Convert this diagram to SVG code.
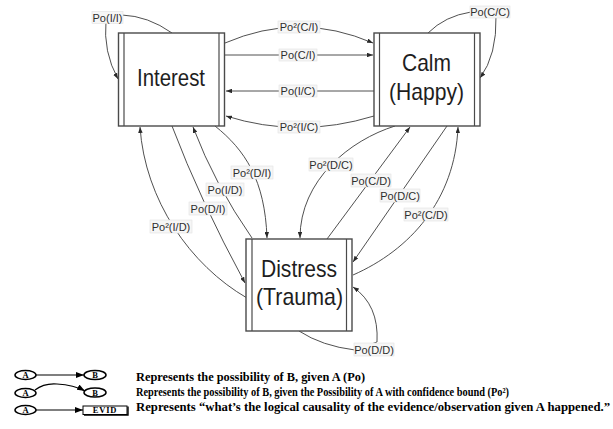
<svg xmlns="http://www.w3.org/2000/svg" width="613" height="429" viewBox="0 0 613 429">
  <style>
    .box { fill: #fff; stroke: #4a4a4a; stroke-width: 1.4; }
    .bar { stroke: #4a4a4a; stroke-width: 1.2; }
    .state { font-family: "Liberation Sans", Arial, sans-serif; font-size: 24px; fill: #1e1e1e; text-anchor: middle; }
    .edge { fill: none; stroke: #3c3c3c; stroke-width: 0.9; marker-end: url(#arr); }
    .lblbg { fill: #f6f6f6; stroke: #e2e2e2; stroke-width: 0.6; }
    .lbl { font-family: "Liberation Sans", Arial, sans-serif; font-size: 11px; fill: #2e2e2e; text-anchor: middle; }
    .leg { font-family: "Liberation Serif", "Times New Roman", serif; font-size: 12px; font-weight: bold; fill: #000; }
    .oval { fill: #fff; stroke: #000; stroke-width: 1.5; }
    .ovl { font-family: "Liberation Serif", serif; font-size: 8.5px; font-weight: bold; fill: #000; text-anchor: middle; }
    .legline { fill: none; stroke: #000; stroke-width: 1.2; }
  </style>
  <defs>
    <marker id="arr" viewBox="0 0 8 6" refX="8" refY="3" markerWidth="6" markerHeight="4.5" orient="auto" markerUnits="userSpaceOnUse">
      <path d="M0,0 L8,3 L0,6 z" fill="#2a2a2a"/>
    </marker>
    <marker id="bold" viewBox="0 0 8 6" refX="8" refY="3" markerWidth="8" markerHeight="6" orient="auto" markerUnits="userSpaceOnUse">
      <path d="M0,0 L8,3 L0,6 z" fill="#000"/>
    </marker>
  </defs>

  <!-- connectors -->
  <g id="connectors">
    <!-- Interest <-> Calm -->
    <path class="edge" d="M225,43 Q299,11 373,43"/>
    <path class="edge" d="M225,55 L373,55"/>
    <path class="edge" d="M374,91 L226,91"/>
    <path class="edge" d="M374,116 Q299,139 226,116"/>
    <!-- self loops -->
    <path class="edge" d="M172,33 Q148,16 122,15 L106,20 Q103,52 118,79"/>
    <path class="edge" d="M428,33 Q445,16 471,12 L496,16 Q497,55 480,78"/>
    <path class="edge" d="M299,331 Q322,346 355,350 L377,342 Q379,305 353,287"/>
    <!-- Interest <-> Distress -->
    <path class="edge" d="M247,298 C190,265 145,200 140,127"/>
    <path class="edge" d="M172,126 Q200,200 245,283"/>
    <path class="edge" d="M252,238 Q215,185 193,127"/>
    <path class="edge" d="M215,126 C245,150 265,180 267,238"/>
    <!-- Calm <-> Distress -->
    <path class="edge" d="M395,126 C350,140 300,180 300,238"/>
    <path class="edge" d="M327,239 L410,127"/>
    <path class="edge" d="M447,126 L353,262"/>
    <path class="edge" d="M353,275 C410,250 455,200 458,127"/>
  </g>

  <!-- states -->
  <g id="interest">
    <rect class="box" x="118.5" y="33" width="106" height="93"/>
    <line class="bar" x1="124" y1="33" x2="124" y2="126"/>
    <line class="bar" x1="219" y1="33" x2="219" y2="126"/>
    <text class="state" x="171" y="86" textLength="68" lengthAdjust="spacingAndGlyphs">Interest</text>
  </g>
  <g id="calm">
    <rect class="box" x="374" y="33" width="106" height="93"/>
    <line class="bar" x1="379.5" y1="33" x2="379.5" y2="126"/>
    <line class="bar" x1="474.5" y1="33" x2="474.5" y2="126"/>
    <text class="state" x="426.5" y="71" textLength="49" lengthAdjust="spacingAndGlyphs">Calm</text>
    <text class="state" x="426.5" y="100" textLength="75" lengthAdjust="spacingAndGlyphs">(Happy)</text>
  </g>
  <g id="distress">
    <rect class="box" x="246" y="239" width="106" height="92"/>
    <line class="bar" x1="252" y1="239" x2="252" y2="331"/>
    <line class="bar" x1="346.5" y1="239" x2="346.5" y2="331"/>
    <text class="state" x="299" y="277" textLength="76" lengthAdjust="spacingAndGlyphs">Distress</text>
    <text class="state" x="299.5" y="305" textLength="87" lengthAdjust="spacingAndGlyphs">(Trauma)</text>
  </g>

  <!-- connector labels -->
  <g id="labels">
    <rect class="lblbg" x="92" y="11.5" width="31" height="12"/>
    <text class="lbl" x="107.5" y="21.5">Po(I/I)</text>
    <rect class="lblbg" x="278" y="21" width="42" height="12"/>
    <text class="lbl" x="299" y="31">Po²(C/I)</text>
    <rect class="lblbg" x="279" y="49" width="38" height="12"/>
    <text class="lbl" x="298" y="59">Po(C/I)</text>
    <rect class="lblbg" x="279" y="85" width="38" height="12"/>
    <text class="lbl" x="298" y="95">Po(I/C)</text>
    <rect class="lblbg" x="278" y="121" width="42" height="12"/>
    <text class="lbl" x="299" y="131">Po²(I/C)</text>
    <rect class="lblbg" x="470" y="6" width="40" height="12"/>
    <text class="lbl" x="490" y="16">Po(C/C)</text>
    <rect class="lblbg" x="231" y="166" width="42" height="13"/>
    <text class="lbl" x="252" y="176.5">Po²(D/I)</text>
    <rect class="lblbg" x="206" y="183" width="38" height="13"/>
    <text class="lbl" x="225" y="193.5">Po(I/D)</text>
    <rect class="lblbg" x="189" y="202" width="38" height="13"/>
    <text class="lbl" x="208" y="212.5">Po(D/I)</text>
    <rect class="lblbg" x="150" y="220" width="42" height="13"/>
    <text class="lbl" x="171" y="230.5">Po²(I/D)</text>
    <rect class="lblbg" x="309" y="158" width="44" height="13"/>
    <text class="lbl" x="331" y="168.5">Po²(D/C)</text>
    <rect class="lblbg" x="351" y="174" width="40" height="13"/>
    <text class="lbl" x="371" y="184.5">Po(C/D)</text>
    <rect class="lblbg" x="380" y="189" width="40" height="13"/>
    <text class="lbl" x="400" y="199.5">Po(D/C)</text>
    <rect class="lblbg" x="404" y="208" width="44" height="13"/>
    <text class="lbl" x="426" y="218.5">Po²(C/D)</text>
    <rect class="lblbg" x="354" y="343" width="40" height="13"/>
    <text class="lbl" x="374" y="353.5">Po(D/D)</text>
  </g>

  <!-- legend -->
  <g id="legend-po">
    <ellipse class="oval" cx="25.5" cy="375" rx="10.5" ry="4.5"/>
    <text class="ovl" x="25.5" y="378">A</text>
    <path class="legline" d="M36,375 L84,375" marker-end="url(#bold)"/>
    <ellipse class="oval" cx="95" cy="375" rx="11" ry="4.5"/>
    <text class="ovl" x="95" y="378">B</text>
  </g>
  <g id="legend-po2">
    <ellipse class="oval" cx="25.5" cy="393" rx="10.5" ry="4.5"/>
    <text class="ovl" x="25.5" y="396">A</text>
    <path class="legline" d="M35,390 Q44,383 57,384 Q74,385 85,391" marker-end="url(#bold)"/>
    <ellipse class="oval" cx="95" cy="392.5" rx="11" ry="4.5"/>
    <text class="ovl" x="95" y="395.5">B</text>
  </g>
  <g id="legend-evid">
    <ellipse class="oval" cx="25.5" cy="410" rx="10.5" ry="4.5"/>
    <text class="ovl" x="25.5" y="413">A</text>
    <path class="legline" d="M36,410 L83,410" marker-end="url(#bold)"/>
    <rect x="83" y="406" width="44" height="8.5" fill="#fff" stroke="#000" stroke-width="1"/>
    <path d="M84,415 L128,415 L128,406.5" fill="none" stroke="#000" stroke-width="1.4"/>
    <text class="ovl" x="105" y="412.5" font-size="5.5" letter-spacing="0.8">EVID</text>
  </g>
  <g id="legend-text">
    <text class="leg" x="136" y="381" textLength="229" lengthAdjust="spacingAndGlyphs">Represents the possibility of B, given A (Po)</text>
    <text class="leg" x="136" y="396" textLength="373" lengthAdjust="spacingAndGlyphs">Represents the possibility of B, given the Possibility of A with confidence bound (Po²)</text>
    <text class="leg" x="136" y="411" textLength="474" lengthAdjust="spacingAndGlyphs">Represents “what’s the logical causality of the evidence/observation given A happened.”</text>
  </g>
</svg>
